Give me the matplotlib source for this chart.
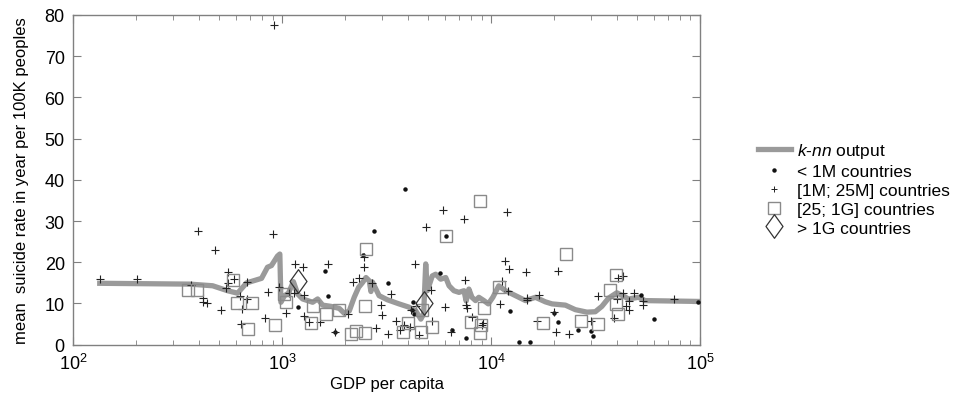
import numpy as np
import matplotlib
matplotlib.use("Agg")
import matplotlib.pyplot as plt
from matplotlib.lines import Line2D
from matplotlib.path import Path
from matplotlib.ticker import LogLocator, FixedLocator, NullFormatter

plt.rcParams['font.family'] = ['Liberation Sans', 'DejaVu Sans']
plt.rcParams['mathtext.fontset'] = 'custom'
plt.rcParams['mathtext.rm'] = 'Liberation Sans'
plt.rcParams['mathtext.it'] = 'Liberation Sans:italic'

# ---- data (GDP per capita, suicide rate) ----
knn_gdp = [134, 361, 465, 548, 612, 676, 797, 851, 889, 950, 975, 987, 1026, 1072, 1132,
           1187, 1253, 1400, 1479, 1563, 1714, 1878, 1984, 2096, 2213, 2322, 2427, 2519,
           2612, 2661, 2706, 2912, 3190, 3628, 4052, 4363, 4612, 4757, 4867, 4955, 5233,
           5430, 5739, 6067, 6295, 6640, 7020, 7420, 7600, 7830, 8100, 8430, 8740, 9240,
           9700, 10200, 10890, 11720, 13090, 14620, 16310, 18200, 19570, 22680, 25310,
           28750, 31540, 33910, 36500, 39980, 42250, 45490, 50770, 54600, 98200]
knn_rate = [14.9, 14.7, 14.3, 13.1, 12.5, 15.0, 16.1, 18.8, 19.2, 21.5, 22.0, 10.3, 11.9,
            12.5, 15.3, 12.3, 11.1, 10.3, 11.1, 9.6, 9.3, 8.8, 7.6, 8.2, 11.5, 13.9, 15.1,
            16.3, 15.5, 12.9, 15.2, 11.9, 10.9, 9.9, 9.1, 8.2, 6.2, 7.5, 19.6, 13.1, 16.7,
            17.1, 15.9, 16.3, 14.3, 13.1, 12.7, 13.1, 10.6, 13.5, 11.5, 10.7, 11.5, 10.7,
            9.9, 11.5, 14.3, 13.1, 11.9, 10.7, 11.5, 10.4, 9.9, 9.6, 8.5, 7.9, 8.0, 9.3,
            11.3, 12.6, 12.0, 11.1, 11.5, 10.7, 10.5]

small_gdp = [1197, 1610, 1652, 1791, 2444, 2760, 3226, 3864, 4210, 4170, 4290, 5700, 6110,
             6470, 7550, 12300, 13600, 15300, 20100, 20900, 26200, 30100, 30700, 52100,
             60300, 98200]
small_rate = [9.1, 17.8, 11.9, 3.2, 21.8, 27.5, 15.0, 37.7, 10.3, 8.4, 7.4, 17.3, 26.4,
              3.6, 1.6, 8.1, 0.7, 0.7, 7.7, 5.6, 3.5, 3.3, 2.0, 12.0, 6.2, 10.4]

mid_gdp = [134, 202, 365, 397, 418, 418, 436, 475, 511, 538, 550, 550, 586, 626, 641, 637,
           681, 676, 826, 853, 902, 918, 970, 1041, 1080, 1146, 1149, 1259, 1268, 1268,
           1349, 1523, 1652, 1791, 2057, 2174, 2339, 2462, 2462, 2703, 2810, 2970, 3021,
           3226, 3310, 3525, 3655, 3840, 4095, 4140, 4310, 4390, 4520, 4860, 5160, 5240,
           5920, 6040, 6410, 7400, 7500, 7600, 7700, 8070, 9080, 9150, 10990, 11300,
           11640, 11930, 12030, 12170, 14760, 14940, 14800, 16670, 16900, 20090, 20540,
           20840, 23500, 30100, 32400, 38600, 40400, 43000, 43000, 40000, 44200, 45800,
           45800, 48500, 53600, 53300, 75400]
mid_rate = [15.9, 15.9, 14.5, 27.5, 11.3, 10.3, 10.0, 23.0, 8.5, 13.7, 17.7, 15.0, 15.9,
            11.7, 8.7, 5.0, 15.1, 11.0, 6.4, 12.7, 26.8, 77.5, 14.1, 7.6, 12.5, 12.5, 19.7,
            18.8, 12.0, 7.0, 5.4, 5.4, 19.6, 3.2, 7.4, 15.3, 16.1, 18.8, 21.4, 15.0, 4.0,
            9.7, 7.1, 2.5, 12.3, 5.7, 3.6, 4.9, 4.2, 8.5, 19.6, 9.5, 2.3, 28.6, 13.3, 5.7,
            32.8, 9.1, 3.0, 30.6, 15.7, 9.7, 8.8, 6.8, 4.9, 5.3, 9.9, 15.4, 20.3, 32.2,
            13.1, 18.4, 17.7, 11.3, 10.9, 5.7, 12.0, 8.0, 3.0, 17.9, 2.6, 5.7, 11.7, 6.5,
            16.1, 16.6, 12.5, 11.1, 9.3, 10.5, 8.5, 12.5, 10.7, 9.7, 11.1]

big_gdp = [356, 390, 580, 610, 716, 688, 923, 1018, 1038, 1409, 1622, 1862, 1380, 2133,
           2245, 2500, 2524, 2506, 3795, 4010, 4615, 4660, 5200, 6110, 7980, 8970, 8850,
           8850, 9250, 10900, 17700, 22900, 27000, 32400, 37000, 39500, 39700, 40700]
big_rate = [13.3, 13.3, 15.8, 10.0, 10.1, 3.8, 4.9, 12.3, 10.4, 9.4, 7.4, 8.4, 5.2, 2.6,
            3.4, 2.9, 23.3, 9.3, 3.2, 5.3, 3.0, 8.5, 4.4, 26.4, 5.4, 4.9, 2.8, 34.8, 8.8,
            13.9, 5.2, 22.0, 5.8, 5.0, 13.3, 17.0, 9.8, 7.4]

huge_gdp = [1191, 4780]
huge_rate = [15.5, 10.1]

legend_labels = [r'$\it{k}$-$\it{nn}$ output', '< 1M countries', '[1M; 25M] countries',
                 '[25; 1G] countries', '> 1G countries']

# ---- figure ----
W, H = 954, 402
fig = plt.figure(figsize=(W / 100, H / 100), dpi=100)
ax = fig.add_axes([73.2 / W, 1 - 345.7 / H, (700 - 73.2) / W, (345.7 - 16) / H])

diamond = Path([(0, 1), (0.72, 0), (0, -1), (-0.72, 0), (0, 1)],
               [Path.MOVETO, Path.LINETO, Path.LINETO, Path.LINETO, Path.CLOSEPOLY])

ax.plot(knn_gdp, knn_rate, color='#9a9a9a', lw=3.8, solid_joinstyle='round', zorder=2)
ax.plot(small_gdp, small_rate, ls='none', marker='o', ms=2.2, color='#111111', zorder=3)
ax.plot(mid_gdp, mid_rate, ls='none', marker='+', ms=6, mew=0.8, color='#222222', zorder=3)
ax.plot(big_gdp, big_rate, ls='none', marker='s', ms=8.5, mfc='none', mec='#8a8a8a',
        mew=1.0, zorder=3)
ax.plot(huge_gdp, huge_rate, ls='none', marker=diamond, ms=17, mfc='none', mec='#333333',
        mew=0.9, zorder=4)

ax.set_xscale('log')
ax.set_xlim(100, 1e5)
ax.set_ylim(0, 80)
ax.set_yticks(np.arange(0, 81, 10))
ax.xaxis.set_major_locator(FixedLocator([1e2, 1e3, 1e4, 1e5]))
ax.xaxis.set_minor_locator(LogLocator(base=10, subs=np.arange(2, 10)))
ax.xaxis.set_minor_formatter(NullFormatter())
ax.set_xticklabels([r'$10^{2}$', r'$10^{3}$', r'$10^{4}$', r'$10^{5}$'])

for sp in ax.spines.values():
    sp.set_color('#808080')
    sp.set_linewidth(1.0)
ax.tick_params(which='both', direction='in', top=True, right=True, color='#808080',
               labelsize=13, pad=6)
ax.tick_params(which='major', length=6)
ax.tick_params(which='minor', length=3.5)

ax.set_xlabel('GDP per capita', fontsize=12, labelpad=2)
ax.set_ylabel('mean  suicide rate in year per 100K peoples', fontsize=12, labelpad=11)

handles = [
    Line2D([], [], color='#9a9a9a', lw=3.8),
    Line2D([], [], ls='none', marker='o', ms=2.2, color='#111111'),
    Line2D([], [], ls='none', marker='+', ms=5, mew=0.7, color='#222222'),
    Line2D([], [], ls='none', marker='s', ms=8.5, mfc='none', mec='#8a8a8a', mew=1.0),
    Line2D([], [], ls='none', marker=diamond, ms=17, mfc='none', mec='#333333', mew=0.9),
]
fig.legend(handles, legend_labels, loc='upper left', bbox_to_anchor=(749 / W, 1 - 133 / H),
           frameon=False, fontsize=12.5, handlelength=1.9, handletextpad=0.35,
           labelspacing=0.22, borderpad=0)

fig.savefig('out.png', dpi=100)
